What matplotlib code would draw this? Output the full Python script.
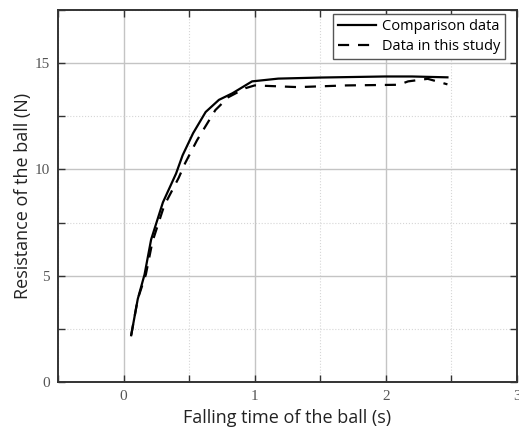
import matplotlib
matplotlib.use("Agg")
import matplotlib.pyplot as plt
from matplotlib.ticker import MultipleLocator

# Data
comp_t = [0.058, 0.108, 0.16, 0.21, 0.30, 0.40, 0.45, 0.53, 0.626, 0.727, 0.83, 0.98, 1.18, 1.5, 1.99, 2.2, 2.47]
comp_f = [2.2, 3.9, 5.06, 6.7, 8.45, 9.8, 10.66, 11.7, 12.7, 13.27, 13.58, 14.14, 14.27, 14.32, 14.37, 14.37, 14.33]

study_t = [0.058, 0.108, 0.17, 0.22, 0.31, 0.42, 0.47, 0.56, 0.70, 0.80, 0.93, 1.0, 1.33, 1.7, 2.1, 2.17, 2.32, 2.47]
study_f = [2.2, 3.9, 5.06, 6.6, 8.3, 9.6, 10.3, 11.37, 12.79, 13.4, 13.82, 13.95, 13.87, 13.95, 13.98, 14.14, 14.26, 14.0]

xticks = [0, 1, 2, 3]
yticks = [0, 5, 10, 15]

fig = plt.figure(figsize=(5.19, 4.32), dpi=100)
ax = fig.add_axes([0.1118, 0.1157, 0.8842, 0.8613])

ax.plot(comp_t, comp_f, color="black", lw=1.6, label="Comparison data")
ax.plot(study_t, study_f, color="black", lw=1.6, ls=(0, (5, 4)), label="Data in this study")

ax.set_xlim(-0.5, 3)
ax.set_ylim(0, 17.5)
ax.set_xticks(xticks)
ax.set_yticks(yticks)
ax.xaxis.set_minor_locator(MultipleLocator(0.5))
ax.yaxis.set_minor_locator(MultipleLocator(2.5))

ax.grid(True, which="major", color="#c4c4c4", lw=1.0, ls="-")
ax.grid(True, which="minor", color="#d6d6d6", lw=0.8, ls=":")
ax.set_axisbelow(True)

for s in ax.spines.values():
    s.set_color("#333333")
    s.set_linewidth(1.4)

ax.tick_params(which="both", direction="in", top=True, right=True, length=5,
               width=1.0, color="#333333", labelcolor="#555555", labelsize=11, pad=6)
for lab in ax.get_xticklabels() + ax.get_yticklabels():
    lab.set_family(["Liberation Serif", "DejaVu Serif"])

ax.set_xlabel("Falling time of the ball (s)", family="Open Sans", fontsize=13, color="#222222", labelpad=4)
ax.set_ylabel("Resistance of the ball (N)", family="Open Sans", fontsize=13, color="#222222", labelpad=2)

leg = ax.legend(loc="upper right", bbox_to_anchor=(0.975, 0.99),
                prop={"family": "Open Sans", "size": 10.5},
                frameon=True, fancybox=False, edgecolor="#555555", framealpha=1,
                borderaxespad=0.0, handlelength=2.6, handletextpad=0.4,
                borderpad=0.35, labelspacing=0.35)
leg.get_frame().set_linewidth(1.0)

fig.savefig("out.png", dpi=100)
